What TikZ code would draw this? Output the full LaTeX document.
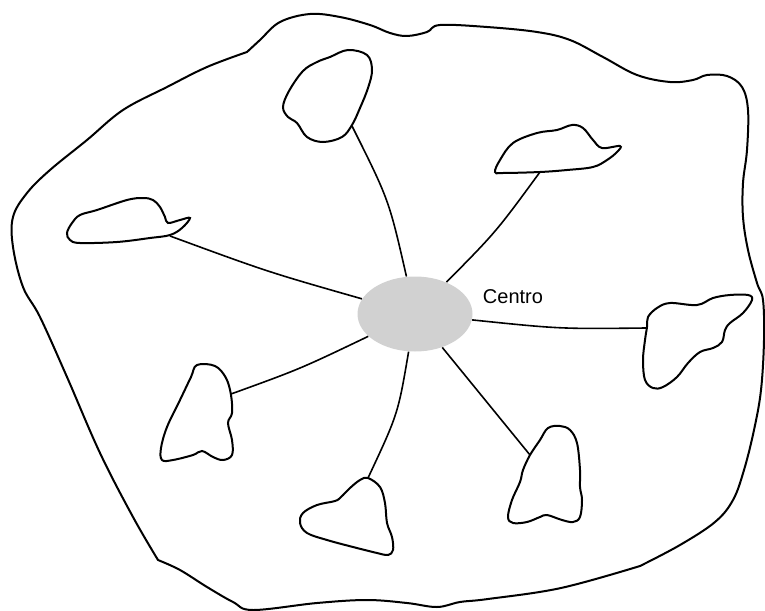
\documentclass[tikz,border=0pt]{standalone}
\usepackage{fontspec}
\setmainfont{Liberation Sans}
\usepackage{tikz}
\usetikzlibrary{shapes.geometric}
\tikzset{
  outline/.style={draw=black, line width=1pt, line join=round},
  blob/.style={draw=black, line width=1pt, smooth cycle, tension=0.6},
  spoke/.style={draw=black, line width=0.8pt},
  hub/.style={ellipse, fill=black!18, draw=none, inner sep=0pt,
              minimum width=57.5pt, minimum height=37.5pt},
  lbl/.style={font=\fontsize{10}{12}\selectfont, inner sep=0pt}
}

\begin{document}
\begin{tikzpicture}[x=0.5pt,y=-0.5pt]
  \useasboundingbox (0,0) rectangle (765,610);

  % Outer region
  \draw[outline] plot[smooth, tension=0.6] coordinates {(247,52) (260,40) (280,22) (310,14)
      (340,17) (370,25) (390,33) (407,36) (427,32) (440,25) (487,27) (537,32) (570,40)
      (603,57) (637,75) (670,82) (693,80) (707,75) (727,76) (742,87) (748,110) (747,150)
      (743,183) (743,217) (748,250) (757,283) (763,300) (764,340) (761,390) (754,430)
      (744,470) (733,500) (715,522) (680,545) (640,566)}
    -- plot[smooth, tension=0.6] coordinates {(640,566) (561,588) (488,599) (460,602)
      (437,607) (407,603) (367,600) (317,603) (253,610) (233,602) (207,587) (180,570)
      (158,560)}
    -- plot[smooth, tension=0.6] coordinates {(158,560) (133,517) (100,453) (67,377)
      (40,317) (23,287) (13,247) (13,217) (27,193) (50,170) (87,140) (123,110)
      (167,87) (207,67) (247,52)}
    -- cycle;

  % Clouds
  \draw[blob] plot coordinates {(330,57) (348,50) (367,55) (372,70) (368,88) (360,108)
      (352,125) (342,137) (323,142) (307,137) (297,123) (288,117) (283,107) (289,91)
      (303,71) (317,62)};
  \draw[blob] plot coordinates {(495,172) (500,160) (513,143) (537,133) (557,130)
      (572,125) (583,128) (593,140) (602,148) (620,146) (617,152) (607,160) (593,167)
      (567,170) (540,172) (503,173)};
  \draw[blob] plot coordinates {(67,233) (70,240) (80,243) (117,242) (150,238)
      (170,235) (182,228) (190,218) (180,220) (168,223) (165,217) (160,207) (153,200)
      (143,198) (127,200) (97,210) (80,215) (72,223)};
  \draw[blob] plot coordinates {(647,327) (648,317) (657,308) (670,303) (697,305)
      (713,298) (730,295) (748,295) (752,300) (743,313) (730,323) (725,330) (722,342)
      (713,348) (700,352) (688,363) (677,377) (663,387) (653,388) (645,380) (643,360)
      (645,340)};
  \draw[blob] plot coordinates {(197,365) (215,366) (226,378) (231,395) (232,413)
      (228,423) (232,440) (232,455) (223,460) (213,457) (202,451) (193,455) (173,460)
      (162,460) (161,448) (167,427) (180,400) (191,377)};
  \draw[blob] plot coordinates {(368,478) (380,487) (385,503) (387,523) (392,537)
      (393,550) (388,555) (377,553) (353,547) (327,540) (307,533) (300,523) (303,513)
      (317,505) (335,501) (341,497) (350,488) (360,480)};
  \draw[blob] plot coordinates {(530,455) (540,440) (548,428) (560,426) (570,430)
      (577,443) (580,470) (580,487) (582,500) (580,517) (573,522) (562,520) (547,515)
      (540,517) (527,522) (513,523) (508,517) (512,500) (520,482) (523,470)};

  % Spoke ends on the clouds
  \coordinate (pA) at (352,126);
  \coordinate (pB) at (540,172);
  \coordinate (pC) at (170,236);
  \coordinate (pD) at (646,328);
  \coordinate (pE) at (231,394);
  \coordinate (pF) at (368,478);
  \coordinate (pG) at (530,455);

  % Hub
  \node[hub] (hub) at (415,314) {};
  \node[lbl] (ctrlbl) at (513,297) {Centro};

  % Spokes
  \draw[spoke] (hub) .. controls (389,200) .. (pA);
  \draw[spoke] (hub) .. controls (496,232) .. (pB);
  \draw[spoke] (hub) .. controls (268,272) .. (pC);
  \draw[spoke] (hub) .. controls (560,329) .. (pD);
  \draw[spoke] (hub) .. controls (300,369) .. (pE);
  \draw[spoke] (hub) .. controls (398,414) .. (pF);
  \draw[spoke] (hub) -- (pG);
\end{tikzpicture}
\end{document}
